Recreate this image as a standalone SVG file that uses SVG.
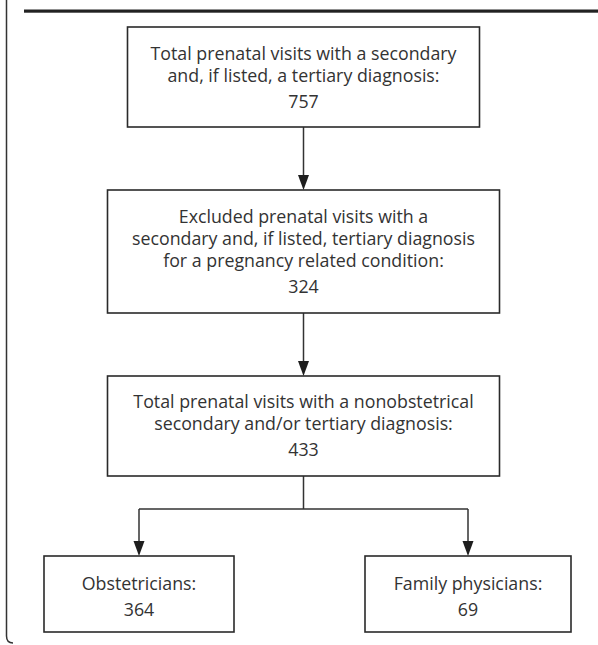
<svg xmlns="http://www.w3.org/2000/svg" width="598" height="645" viewBox="0 0 598 645">
  <style>
    .box { fill: #ffffff; stroke: #2a2a2a; stroke-width: 1.6; }
    .lbl { font-family: "Open Sans", "Noto Sans", "Liberation Sans", sans-serif; font-size: 17.8px; fill: #333333; text-anchor: middle; }
    .edge { fill: none; stroke: #333333; stroke-width: 1.5; }
    .head { fill: #1e1e1e; }
  </style>
  <rect x="0" y="0" width="598" height="645" fill="#ffffff"/>
  <rect x="24" y="9.5" width="574" height="3.2" fill="#222222"/>
  <path d="M6.5,0 V636 Q6.5,643 13,643" fill="none" stroke="#333333" stroke-width="1.5"/>

  <g id="connectors">
    <line class="edge" x1="303.5" y1="127" x2="303.5" y2="176"/>
    <path class="head" d="M298,175 L309,175 L303.5,190 Z"/>
    <line class="edge" x1="303.5" y1="313" x2="303.5" y2="362"/>
    <path class="head" d="M298,361 L309,361 L303.5,376 Z"/>
    <path class="edge" d="M303.5,476 V509 M139,509 H468 M139,509 V542 M468,509 V542"/>
    <path class="head" d="M133.5,541 L144.5,541 L139,556 Z"/>
    <path class="head" d="M462.5,541 L473.5,541 L468,556 Z"/>
  </g>

  <g id="node-total">
    <rect class="box" x="127.5" y="27" width="352" height="100"/>
    <text class="lbl" x="303.5" y="60">Total prenatal visits with a secondary</text>
    <text class="lbl" x="303.5" y="82">and, if listed, a tertiary diagnosis:</text>
    <text class="lbl" x="303.5" y="108">757</text>
  </g>

  <g id="node-excluded">
    <rect class="box" x="107.5" y="190" width="392" height="123"/>
    <text class="lbl" x="303.5" y="223">Excluded prenatal visits with a</text>
    <text class="lbl" x="303.5" y="245">secondary and, if listed, tertiary diagnosis</text>
    <text class="lbl" x="303.5" y="267">for a pregnancy related condition:</text>
    <text class="lbl" x="303.5" y="293">324</text>
  </g>

  <g id="node-nonobstetrical">
    <rect class="box" x="107.5" y="376" width="392" height="100"/>
    <text class="lbl" x="303.5" y="408">Total prenatal visits with a nonobstetrical</text>
    <text class="lbl" x="303.5" y="430">secondary and/or tertiary diagnosis:</text>
    <text class="lbl" x="303.5" y="456">433</text>
  </g>

  <g id="node-obstetricians">
    <rect class="box" x="44" y="556" width="190" height="76"/>
    <text class="lbl" x="139" y="590">Obstetricians:</text>
    <text class="lbl" x="139" y="616">364</text>
  </g>

  <g id="node-family">
    <rect class="box" x="365" y="556" width="206" height="76"/>
    <text class="lbl" x="468" y="590">Family physicians:</text>
    <text class="lbl" x="468" y="616">69</text>
  </g>
</svg>
